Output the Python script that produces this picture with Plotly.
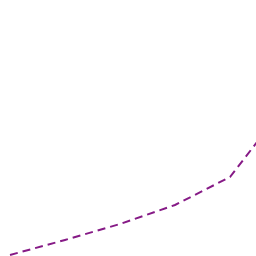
import plotly.graph_objects as go

periods = [0, 1, 2, 3, 4, 5]
values = [1, 16, 32, 51, 79, 150]

fig = go.Figure()
fig.add_trace(go.Scatter(
    x=periods, y=values, mode="lines",
    line=dict(color="#861a86", width=2, dash="8px,5px"),
    showlegend=False,
))
fig.update_layout(
    width=256, height=256,
    margin=dict(l=0, r=0, t=0, b=0),
    paper_bgcolor="white", plot_bgcolor="white",
    xaxis=dict(visible=False, range=[-0.182, 4.473]),
    yaxis=dict(visible=False, range=[0, 256]),
)
fig.write_html("out.html")
